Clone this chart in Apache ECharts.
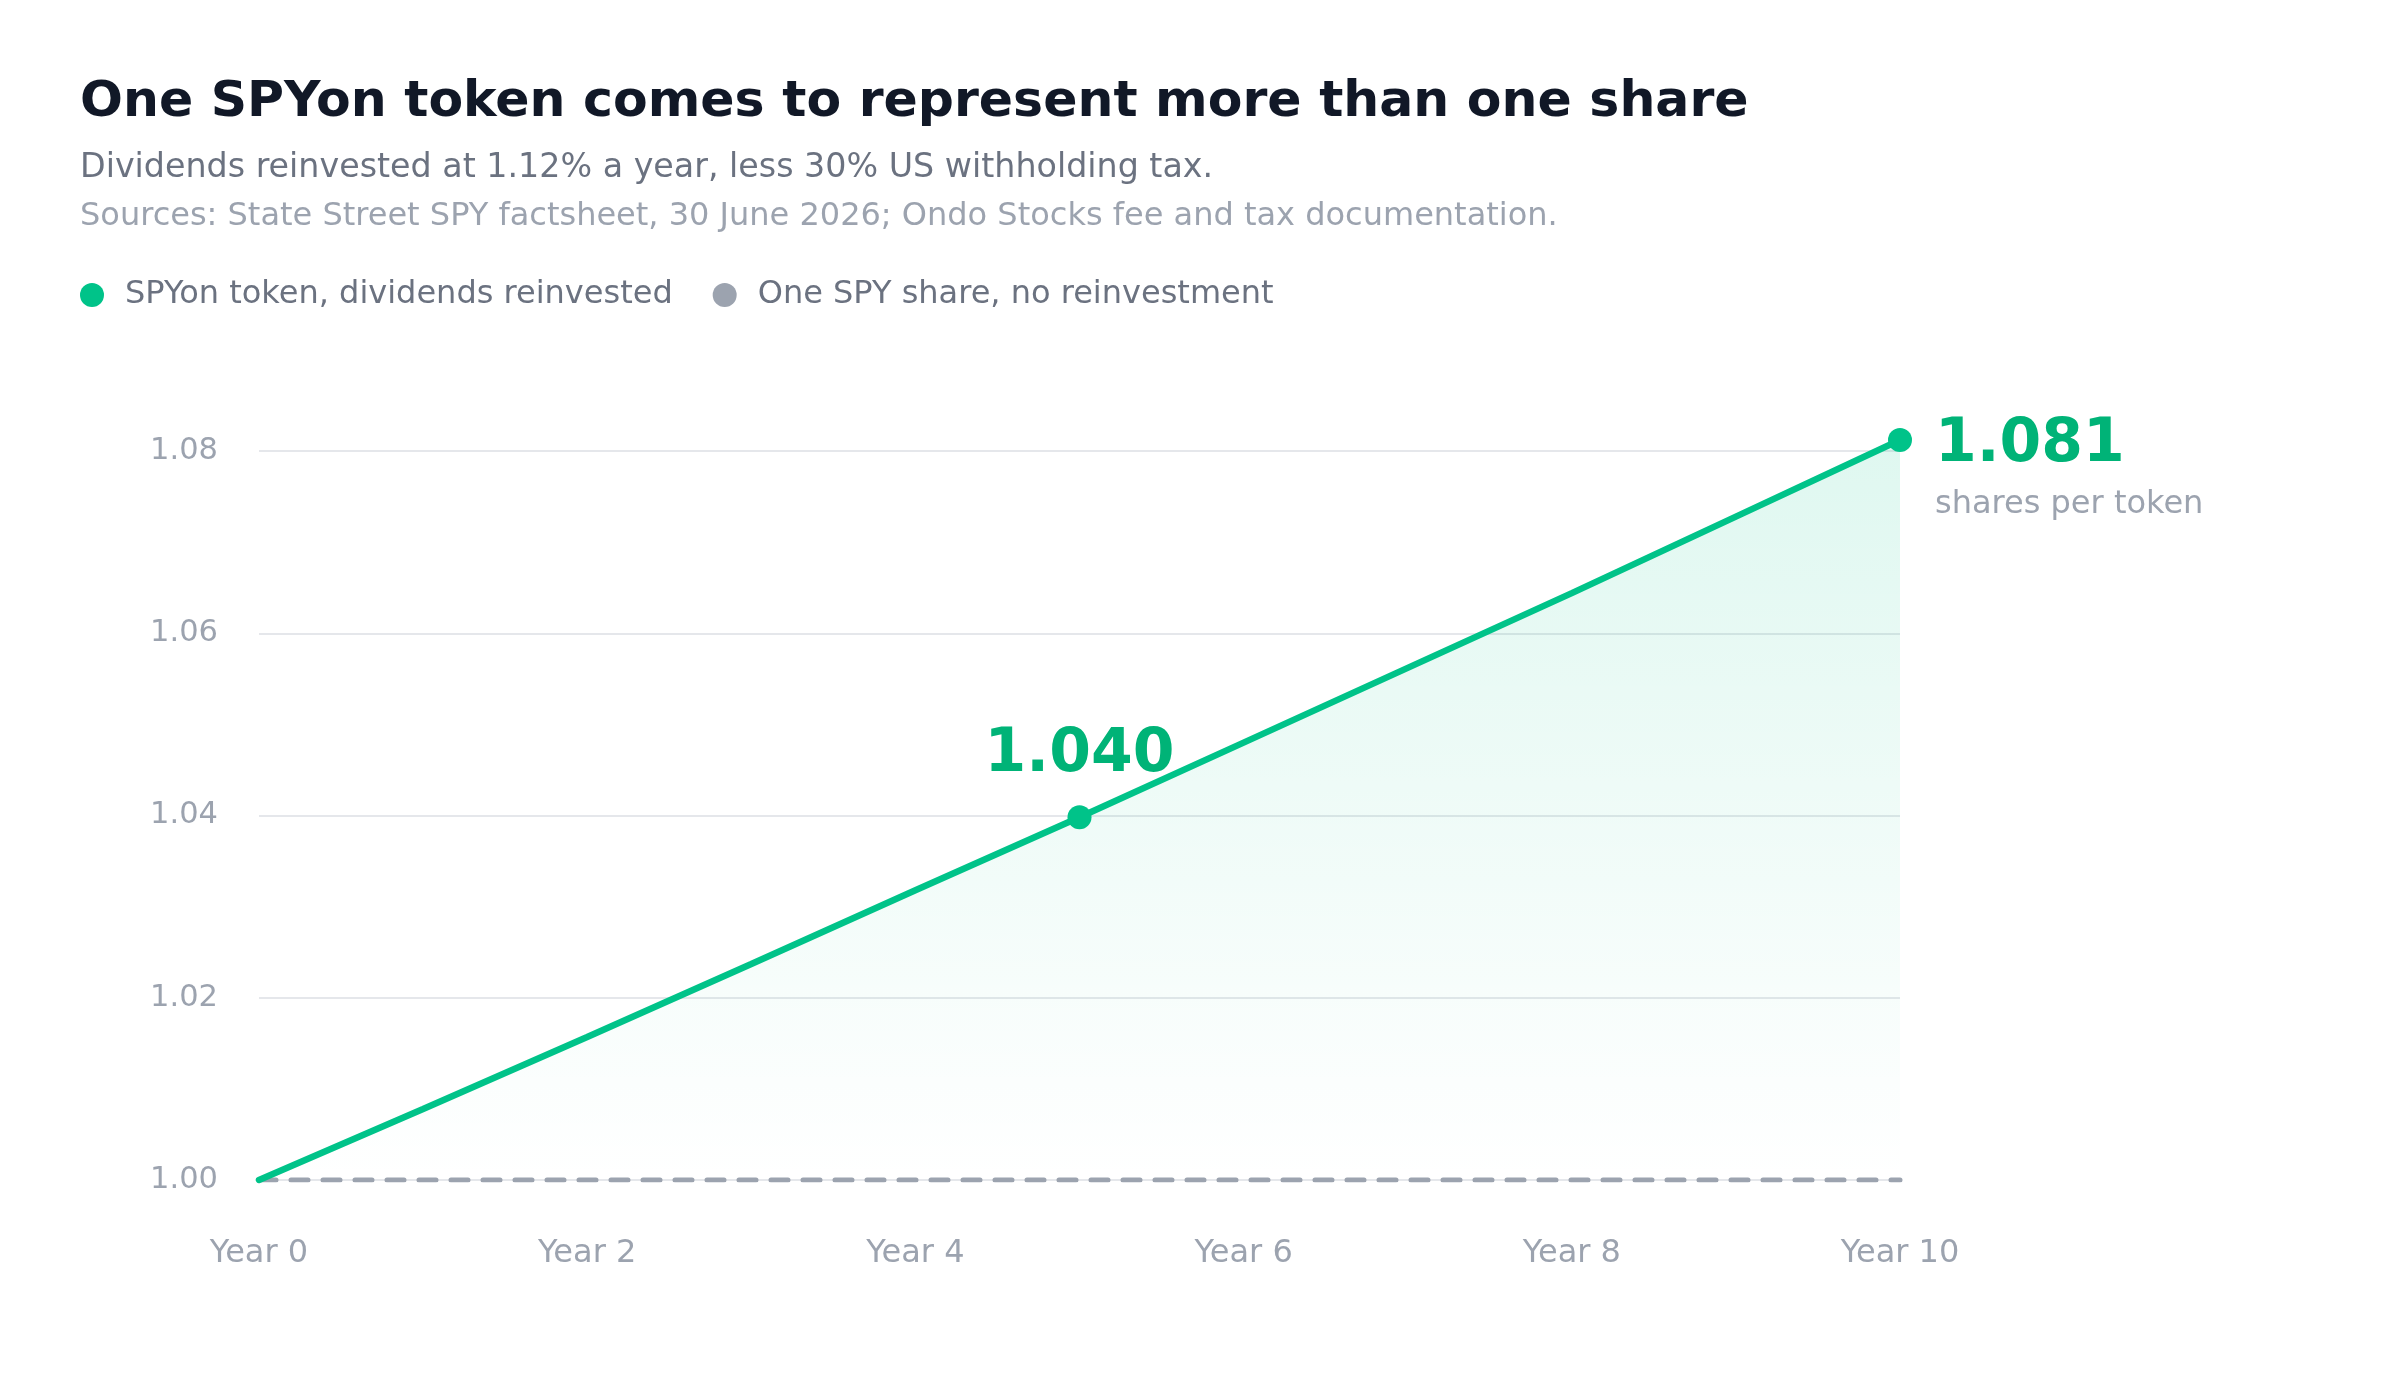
<!DOCTYPE html>
<html>
<head>
<meta charset="utf-8" />
<script src="https://cdn.jsdelivr.net/npm/echarts@6/dist/echarts.min.js"></script>
<style>
  html, body { margin: 0; padding: 0; background: #fff; }
  #chart { width: 2400px; height: 1400px; }
</style>
</head>
<body>
<div id="chart"></div>
<script>
// years on the x axis
var years = [0, 1, 2, 3, 4, 5, 6, 7, 8, 9, 10];
// shares represented by one SPYon token (dividends reinvested)
var tokenShares = [1.0000, 1.0078, 1.0157, 1.0237, 1.0318, 1.0398, 1.0480, 1.0562, 1.0644, 1.0728, 1.0812];
// one SPY share, no reinvestment
var plainShares = [1.00, 1.00, 1.00, 1.00, 1.00, 1.00, 1.00, 1.00, 1.00, 1.00, 1.00];
// points that carry a marker and a big label
var midYear = 5;
var endYear = 10;

var seriesNames = ['SPYon token, dividends reinvested', 'One SPY share, no reinvestment'];
var green = '#00c389';
var greenText = '#00b377';
var gray = '#9ca3af';
var font = 'DejaVu Sans';

var tokenData = years.map(function (y, i) {
  var item = { value: [y, tokenShares[i]] };
  if (y === midYear) {
    item.label = {
      show: true, position: 'top', distance: 20,
      formatter: function (p) { return p.value[1].toFixed(3); },
      fontSize: 60, fontWeight: 'bold', color: greenText, fontFamily: font
    };
  } else if (y === endYear) {
    item.label = {
      show: true, position: 'right', distance: 23, offset: [0, 33],
      align: 'left',
      formatter: function (p) { return '{a|' + p.value[1].toFixed(3) + '}\n{b|shares per token}'; },
      rich: {
        a: { fontSize: 60, fontWeight: 'bold', color: greenText, fontFamily: font, lineHeight: 64 },
        b: { fontSize: 32, color: gray, fontFamily: font, lineHeight: 56 }
      }
    };
  } else {
    item.symbol = 'none';
  }
  return item;
});
var plainData = years.map(function (y, i) { return [y, plainShares[i]]; });

var chart = echarts.init(document.getElementById('chart'));
chart.setOption({
  backgroundColor: '#fff',
  animation: false,
  textStyle: { fontFamily: font },
  title: [
    { text: 'One SPYon token comes to represent more than one share', left: 75, top: 72,
      textStyle: { fontSize: 50.5, fontWeight: 'bold', color: '#111827', fontFamily: font } },
    { text: 'Dividends reinvested at 1.12% a year, less 30% US withholding tax.', left: 75, top: 147,
      textStyle: { fontSize: 33.3, fontWeight: 'normal', color: '#6b7280', fontFamily: font } },
    { text: 'Sources: State Street SPY factsheet, 30 June 2026; Ondo Stocks fee and tax documentation.', left: 75, top: 196,
      textStyle: { fontSize: 32, fontWeight: 'normal', color: gray, fontFamily: font } }
  ],
  legend: {
    left: 75, top: 274,
    icon: 'circle', itemWidth: 24, itemHeight: 24, itemGap: 40,
    textStyle: { fontSize: 32, color: '#6b7280', fontFamily: font, padding: [0, 0, 0, 16] },
    data: [
      { name: seriesNames[0], itemStyle: { color: green } },
      { name: seriesNames[1], itemStyle: { color: gray } }
    ]
  },
  grid: { left: 259, right: 500, top: 451, bottom: 220 },
  xAxis: {
    type: 'value', min: 0, max: 10, interval: 2,
    axisLine: { show: false }, axisTick: { show: false }, splitLine: { show: false },
    axisLabel: { formatter: function (v) { return 'Year ' + v; }, fontSize: 32, color: gray, margin: 58, fontFamily: font }
  },
  yAxis: {
    type: 'value', min: 1.00, max: 1.08, interval: 0.02,
    axisLine: { show: false }, axisTick: { show: false },
    splitLine: { lineStyle: { color: '#e5e7eb', width: 2 } },
    axisLabel: { formatter: function (v) { return v.toFixed(2); }, fontSize: 30.5, color: gray, margin: 41, fontFamily: font, padding: [6, 0, 0, 0] }
  },
  series: [
    {
      name: seriesNames[1], type: 'line', data: plainData, symbol: 'none', z: 2,
      itemStyle: { color: gray },
      lineStyle: { color: gray, width: 5, type: [17, 15], cap: 'round' }
    },
    {
      name: seriesNames[0], type: 'line', data: tokenData, clip: false, z: 3,
      symbol: 'circle', symbolSize: 24, showSymbol: true,
      itemStyle: { color: green },
      lineStyle: { color: green, width: 6.5, cap: 'round' },
      areaStyle: {
        origin: 'start',
        color: new echarts.graphic.LinearGradient(0, 0, 0, 1, [
          { offset: 0, color: 'rgba(0,195,137,0.18)' },
          { offset: 1, color: 'rgba(0,195,137,0)' }
        ])
      }
    }
  ]
});
</script>
</body>
</html>
